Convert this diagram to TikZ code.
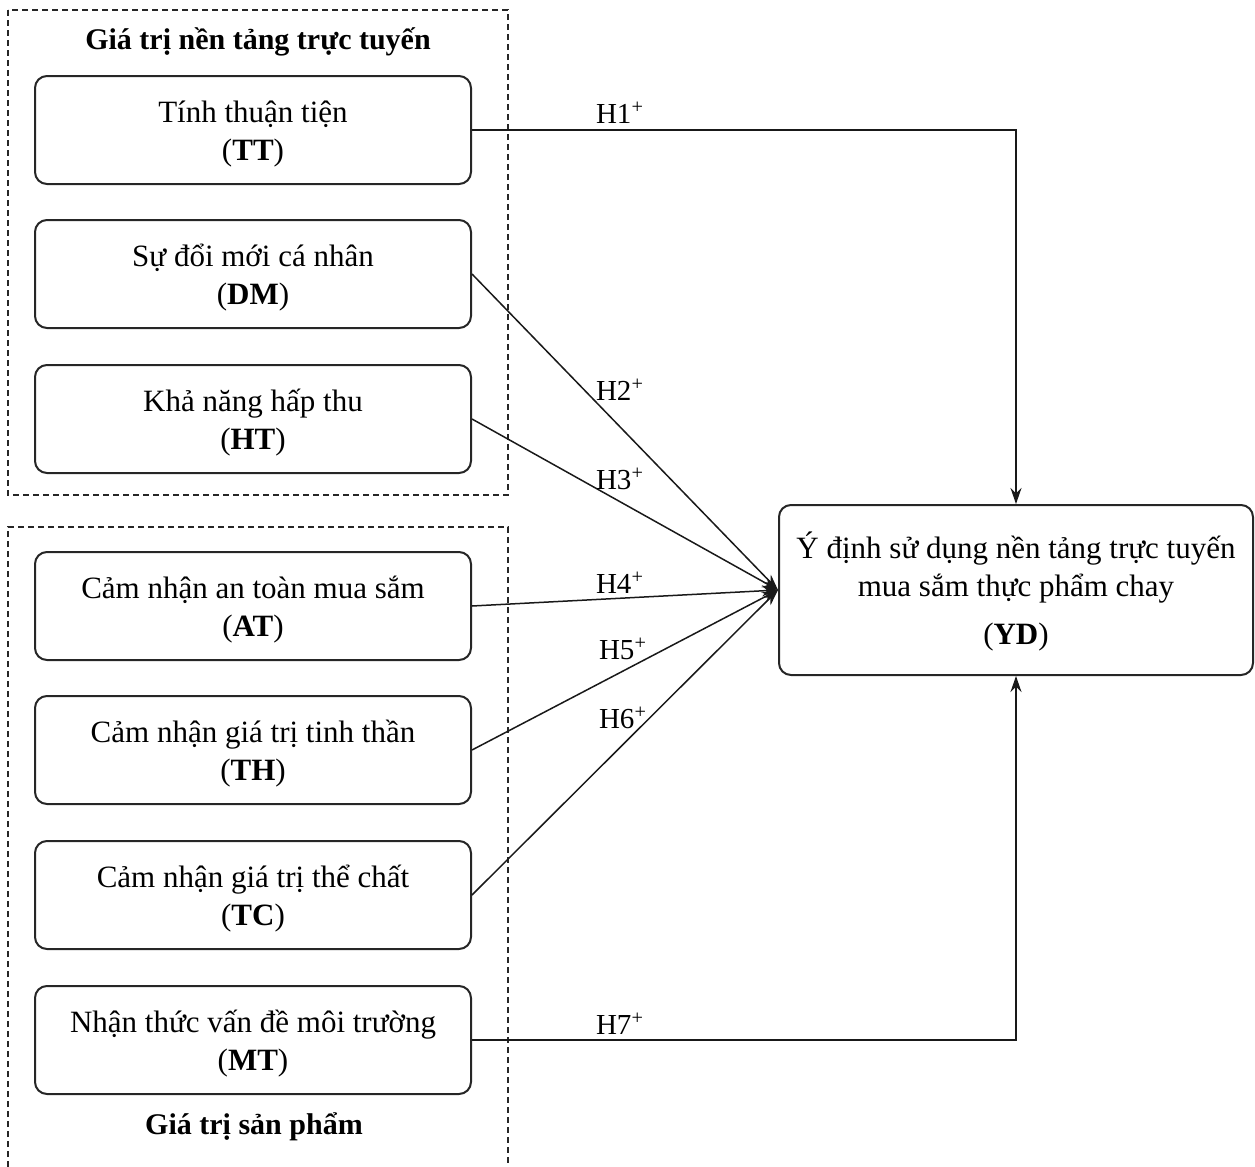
\documentclass[tikz,border=0pt]{standalone}
\usepackage{fontspec}
\setmainfont{Liberation Serif}
\usetikzlibrary{positioning,arrows.meta}
\newcommand{\dong}{\rule{0pt}{15pt}}
\tikzset{
  khoi/.style={draw=black!85,line width=1pt,rounded corners=6pt,minimum width=218pt,minimum height=54pt,align=center,inner sep=2pt,font=\fontsize{15.5}{19}\selectfont},
  nhom/.style={draw=black!85,line width=0.7pt,dash pattern=on 3pt off 2pt},
  tieude/.style={font=\fontsize{15}{18}\selectfont\bfseries},
  nhan/.style={font=\fontsize{14.5}{17}\selectfont,inner sep=1pt},
  sip/.style={-{Stealth[length=8pt,width=5.5pt]},line width=0.75pt,black!90},
}
\begin{document}
\begin{tikzpicture}[x=0.5pt,y=-0.5pt]
  \useasboundingbox (0,0) rectangle (1255,1167);
  % nhom tren
  \draw[nhom] (8,10) rectangle (508,495);
  \node[tieude] (g1) at (258,42) {Giá trị nền tảng trực tuyến};
  \node[khoi] (tt) at (253,130) {\dong Tính thuận tiện\\(\textbf{TT})};
  \node[khoi] (dm) [below=17pt of tt] {\dong Sự đổi mới cá nhân\\(\textbf{DM})};
  \node[khoi] (ht) [below=17.5pt of dm] {\dong Khả năng hấp thu\\(\textbf{HT})};
  % nhom duoi
  \draw[nhom] (8,1167) |- (508,527) -- (508,1167);
  \node[khoi] (at) at (253,606) {\dong Cảm nhận an toàn mua sắm\\(\textbf{AT})};
  \node[khoi] (th) [below=17pt of at] {\dong Cảm nhận giá trị tinh thần\\(\textbf{TH})};
  \node[khoi] (tc) [below=17.5pt of th] {\dong Cảm nhận giá trị thể chất\\(\textbf{TC})};
  \node[khoi] (mt) [below=17.5pt of tc] {\dong Nhận thức vấn đề môi trường\\(\textbf{MT})};
  \node[tieude] (g2) at (254,1127) {Giá trị sản phẩm};
  % bien phu thuoc
  \node[khoi,minimum width=237pt,minimum height=85pt] (yd) at (1016,590)
    {\dong Ý định sử dụng nền tảng trực tuyến\\mua sắm thực phẩm chay\\[5pt](\textbf{YD})};
  % gia thuyet
  \draw[sip] (tt.east) -| (yd.north);
  \draw[sip] (dm.east) -- (yd.west);
  \draw[sip] (ht.east) -- (yd.west);
  \draw[sip] (at.east) -- (yd.west);
  \draw[sip] (th.east) -- (yd.west);
  \draw[sip] (tc.east) -- (yd.west);
  \draw[sip] (mt.east) -| (yd.south);
  \node[nhan] (h1) at (620,113) {H1\textsuperscript{+}};
  \node[nhan] (h2) at (620,390) {H2\textsuperscript{+}};
  \node[nhan] (h3) at (620,479) {H3\textsuperscript{+}};
  \node[nhan] (h4) at (620,583) {H4\textsuperscript{+}};
  \node[nhan] (h5) at (623,649) {H5\textsuperscript{+}};
  \node[nhan] (h6) at (623,718) {H6\textsuperscript{+}};
  \node[nhan] (h7) at (620,1024) {H7\textsuperscript{+}};
\end{tikzpicture}
\end{document}
